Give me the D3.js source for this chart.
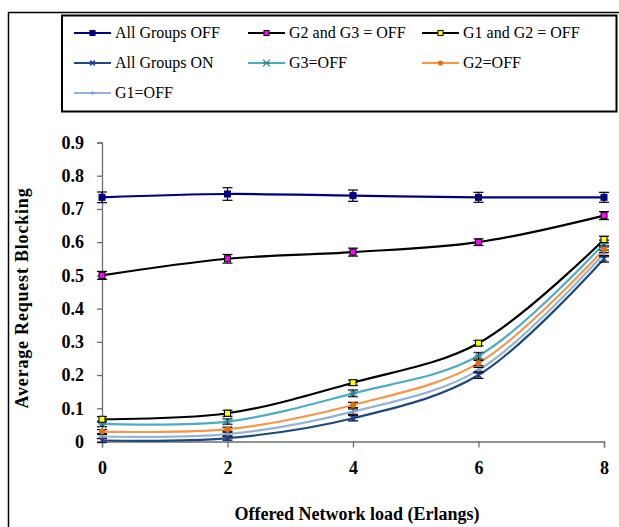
<!DOCTYPE html>
<html>
<head>
<meta charset="utf-8">
<script src="https://cdn.jsdelivr.net/npm/d3@7"></script>
<style>
  body { margin: 0; background: #fff; }
  svg { display: block; }
  svg text { font-family: "Liberation Serif", "Times New Roman", serif; }
</style>
</head>
<body>
<div id="chart"></div>
<script>
// data
const loads = [0, 2, 4, 6, 8];
const yTicks = [0, 0.1, 0.2, 0.3, 0.4, 0.5, 0.6, 0.7, 0.8, 0.9];

const allGroupsOff = [0.735, 0.745, 0.740, 0.735, 0.735];
const allGroupsOffErr = [0.016, 0.019, 0.017, 0.015, 0.015];
const g2g3Off = [0.500, 0.550, 0.570, 0.600, 0.680];
const g2g3OffErr = [0.012, 0.013, 0.012, 0.010, 0.012];
const g1g2Off = [0.067, 0.085, 0.177, 0.296, 0.608];
const g1g2OffErr = [0.008, 0.009, 0.008, 0.008, 0.010];
const allGroupsOn = [0.003, 0.010, 0.070, 0.200, 0.550];
const allGroupsOnErr = [0.006, 0.006, 0.008, 0.010, 0.010];
const g3Off = [0.053, 0.060, 0.145, 0.258, 0.596];
const g3OffErr = [0.008, 0.008, 0.010, 0.010, 0.010];
const g2Off = [0.030, 0.037, 0.110, 0.236, 0.579];
const g2OffErr = [0.006, 0.006, 0.008, 0.008, 0.010];
const g1Off = [0.015, 0.022, 0.090, 0.215, 0.566];
const g1OffErr = [0.006, 0.006, 0.008, 0.008, 0.010];

const series = [
  {name: "All Groups ON", values: allGroupsOn, err: allGroupsOnErr, color: "#1f497d", marker: "x", mColor: "#1f3fa0"},
  {name: "G1=OFF", values: g1Off, err: g1OffErr, color: "#95b3d7", marker: "plus", mColor: "#7f9fcf"},
  {name: "G2=OFF", values: g2Off, err: g2OffErr, color: "#f79646", marker: "circle", mColor: "#e46c0a"},
  {name: "G3=OFF", values: g3Off, err: g3OffErr, color: "#4bacc6", marker: "star", mColor: "#31859c"},
  {name: "G1 and G2 = OFF", values: g1g2Off, err: g1g2OffErr, color: "#000000", marker: "square", mColor: "#ffff00"},
  {name: "G2 and G3 = OFF", values: g2g3Off, err: g2g3OffErr, color: "#000000", marker: "square", mColor: "#ff00ff"},
  {name: "All Groups OFF", values: allGroupsOff, err: allGroupsOffErr, color: "#000080", marker: "square", mColor: "#000080"}
];

// legend order as in the reference
const legendOrder = [
  "All Groups OFF", "G2 and G3 = OFF", "G1 and G2 = OFF",
  "All Groups ON", "G3=OFF", "G2=OFF",
  "G1=OFF"
];

const W = 619, H = 527;
const svg = d3.select("#chart").append("svg").attr("width", W).attr("height", H);

// outer frame
svg.append("rect")
  .attr("x", 8.5).attr("y", 12.5)
  .attr("width", 620).attr("height", 530)
  .attr("fill", "none").attr("stroke", "#000").attr("stroke-width", 1.5);

const x = d3.scaleLinear().domain([0, 8]).range([102, 604]);
const y = d3.scaleLinear().domain([0, 0.9]).range([441.5, 142.5]);

// y axis
const yAxis = svg.append("g")
  .attr("transform", "translate(102,0)")
  .call(d3.axisLeft(y).tickValues(yTicks).tickSize(5).tickPadding(13)
    .tickFormat(d => d === 0 ? "0" : d3.format(".1f")(d)));

// x axis
const xAxis = svg.append("g")
  .attr("transform", "translate(0,441.5)")
  .call(d3.axisBottom(x).tickValues(loads).tickSize(6).tickPadding(14));

[yAxis, xAxis].forEach(g => {
  g.select(".domain").attr("stroke", "#6e6e6e").attr("stroke-width", 1.3);
  g.selectAll(".tick line").attr("stroke", "#6e6e6e").attr("stroke-width", 1.3);
  g.selectAll("text")
    .attr("fill", "#000")
    .style("font-family", "'Liberation Serif', serif")
    .style("font-size", "18px")
    .style("font-weight", "bold");
});

// axis titles
svg.append("text")
  .attr("transform", "translate(28,298) rotate(-90)")
  .attr("text-anchor", "middle")
  .style("font-size", "18px").style("font-weight", "bold")
  .style("letter-spacing", "0.8px")
  .text("Average Request Blocking");

svg.append("text")
  .attr("x", 357).attr("y", 520)
  .attr("text-anchor", "middle")
  .style("font-size", "18px").style("font-weight", "bold")
  .text("Offered Network load (Erlangs)");

// markers
function drawMarker(g, s, cx, cy, scale) {
  const k = scale || 1;
  if (s.marker === "square") {
    g.append("rect")
      .attr("x", cx - 3 * k).attr("y", cy - 3 * k)
      .attr("width", 6 * k).attr("height", 6 * k)
      .attr("fill", s.mColor)
      .attr("stroke", s.mColor === "#000080" ? "#000080" : "#000").attr("stroke-width", 1);
  } else if (s.marker === "x") {
    const r = 2.8 * k;
    g.append("path")
      .attr("d", `M${cx - r},${cy - r}L${cx + r},${cy + r}M${cx - r},${cy + r}L${cx + r},${cy - r}`)
      .attr("stroke", s.mColor).attr("stroke-width", 1.5);
  } else if (s.marker === "plus") {
    const r = 3.5 * k;
    g.append("path")
      .attr("d", `M${cx - r},${cy}L${cx + r},${cy}M${cx},${cy - r * 0.6}L${cx},${cy + r * 0.6}`)
      .attr("stroke", s.mColor).attr("stroke-width", 1.4);
  } else if (s.marker === "circle") {
    g.append("circle")
      .attr("cx", cx).attr("cy", cy).attr("r", 3 * k)
      .attr("fill", s.mColor);
  } else if (s.marker === "star") {
    const r = 4 * k;
    g.append("path")
      .attr("d", `M${cx - r},${cy - r}L${cx + r},${cy + r}M${cx - r},${cy + r}L${cx + r},${cy - r}M${cx - r},${cy}L${cx + r},${cy}`)
      .attr("stroke", s.mColor).attr("stroke-width", 1.3);
  }
}

const line = d3.line()
  .x((d, i) => x(loads[i]))
  .y(d => y(d))
  .curve(d3.curveCatmullRom.alpha(0.5));

const plot = svg.append("g");

series.forEach(s => {
  plot.append("path")
    .datum(s.values)
    .attr("d", line)
    .attr("fill", "none")
    .attr("stroke", s.color)
    .attr("stroke-width", 2.2);
});

// error bars
series.forEach(s => {
  const eb = plot.append("g").attr("stroke", "#000").attr("stroke-width", 1.2);
  s.values.forEach((v, i) => {
    const cx = x(loads[i]);
    const y1 = y(v + s.err[i]), y2 = y(v - s.err[i]);
    eb.append("line").attr("x1", cx).attr("x2", cx).attr("y1", y1).attr("y2", y2);
    eb.append("line").attr("x1", cx - 5).attr("x2", cx + 5).attr("y1", y1).attr("y2", y1);
    eb.append("line").attr("x1", cx - 5).attr("x2", cx + 5).attr("y1", y2).attr("y2", y2);
  });
});

series.forEach(s => {
  const mg = plot.append("g");
  s.values.forEach((v, i) => drawMarker(mg, s, x(loads[i]), y(v)));
});

// legend
const legend = svg.append("g");
legend.append("rect")
  .attr("x", 62).attr("y", 15.5)
  .attr("width", 554.5).attr("height", 96)
  .attr("fill", "#fff").attr("stroke", "#000").attr("stroke-width", 2);

const colX = [74, 248, 422];
const rowY = [33, 63, 93];
legendOrder.forEach((name, i) => {
  const s = series.find(d => d.name === name);
  const lx = colX[i % 3], ly = rowY[Math.floor(i / 3)];
  legend.append("line")
    .attr("x1", lx).attr("x2", lx + 37).attr("y1", ly).attr("y2", ly)
    .attr("stroke", s.color).attr("stroke-width", 2.2);
  drawMarker(legend, s, lx + 18.5, ly, 0.85);
  legend.append("text")
    .attr("x", lx + 41).attr("y", ly + 5)
    .style("font-size", "16px")
    .text(name);
});
</script>
</body>
</html>
